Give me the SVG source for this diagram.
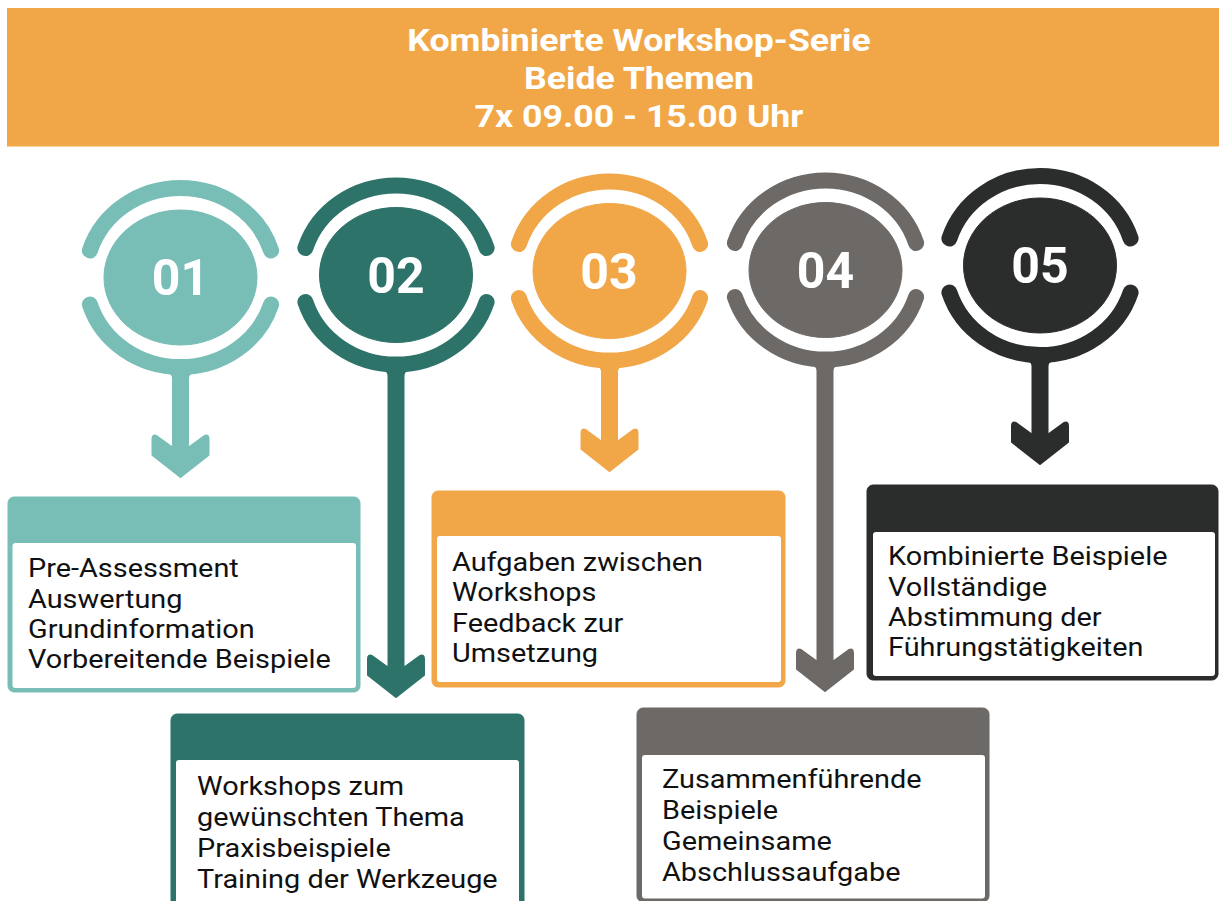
<svg xmlns="http://www.w3.org/2000/svg" width="1219" height="901" viewBox="0 0 1219 901">
<style>
.hdr{font-family:Roboto,"Liberation Sans",sans-serif;font-weight:700;font-size:31px;fill:#ffffff;text-anchor:middle}
.num{font-family:Roboto,"Liberation Sans",sans-serif;font-weight:700;font-size:50px;fill:#ffffff;text-anchor:middle}
.bt{font-family:Roboto,"Liberation Sans",sans-serif;font-size:26.5px;fill:#111111}
.arw{stroke-width:2;stroke-linejoin:round}
.c1{fill:#78BEB6;stroke:#78BEB6}
.c2{fill:#2D7369;stroke:#2D7369}
.c3{fill:#F1A748;stroke:#F1A748}
.c4{fill:#6D6966;stroke:#6D6966}
.c5{fill:#2B2D2C;stroke:#2B2D2C}
.ring{fill:none;stroke-width:16;stroke-linecap:round}
.inner{fill:#ffffff}
</style>
<rect width="1219" height="901" fill="#ffffff"/>
<g id="header">
<rect x="7" y="8" width="1212" height="138.5" fill="#F1A748"/>
<g transform="translate(639,0) scale(1.15,1)">
<text class="hdr" x="0" y="51">Kombinierte Workshop-Serie</text>
<text class="hdr" x="0" y="89">Beide Themen</text>
<text class="hdr" x="0" y="127">7x 09.00 - 15.00 Uhr</text>
</g>
</g>
<g id="connectors">
<path class="arw c1" d="M167,372.5 Q173,372.5 173,378.5 L173,448 L156.5,436 Q152.5,434 152.5,439 L152.5,455 L180.5,477 L208.5,455 L208.5,439 Q208.5,434 204.5,436 L188,448 L188,378.5 Q188,372.5 194,372.5 Z"/>
<path class="arw c2" d="M382.5,370 Q388.5,370 388.5,376 L388.5,668 L372,656 Q368,654 368,659 L368,675 L396,697 L424,675 L424,659 Q424,654 420,656 L403.5,668 L403.5,376 Q403.5,370 409.5,370 Z"/>
<path class="arw c3" d="M596,366 Q602,366 602,372 L602,442 L585.5,430 Q581.5,428 581.5,433 L581.5,449 L609.5,471 L637.5,449 L637.5,433 Q637.5,428 633.5,430 L617,442 L617,372 Q617,366 623,366 Z"/>
<path class="arw c4" d="M811.5,365 Q817.5,365 817.5,371 L817.5,662 L801,650 Q797,648 797,653 L797,669 L825,691 L853,669 L853,653 Q853,648 849,650 L832.5,662 L832.5,371 Q832.5,365 838.5,365 Z"/>
<path class="arw c5" d="M1026.5,360.5 Q1032.5,360.5 1032.5,366.5 L1032.5,435 L1016,423 Q1012,421 1012,426 L1012,442 L1040,464 L1068,442 L1068,426 Q1068,421 1064,423 L1047.5,435 L1047.5,366.5 Q1047.5,360.5 1053.5,360.5 Z"/>
</g>
<g id="step01">
<path class="c1 ring" d="M89.9,250.5 A95,89.5 0 0 1 271.1,250.5 M89.9,304.5 A95,89.5 0 0 0 271.1,304.5"/>
<ellipse class="c1" cx="180.5" cy="277.5" rx="76.5" ry="67.5" stroke="none"/>
<text class="num" x="180.5" y="295">01</text>
</g>
<g id="step02">
<path class="c2 ring" d="M305.4,248 A95,89.5 0 0 1 486.6,248 M305.4,302 A95,89.5 0 0 0 486.6,302"/>
<ellipse class="c2" cx="396" cy="275" rx="76.5" ry="67.5" stroke="none"/>
<text class="num" x="396" y="292.5">02</text>
</g>
<g id="step03">
<path class="c3 ring" d="M518.9,244 A95,89.5 0 0 1 700.1,244 M518.9,298 A95,89.5 0 0 0 700.1,298"/>
<ellipse class="c3" cx="609.5" cy="271" rx="76.5" ry="67.5" stroke="none"/>
<text class="num" x="609" y="288.5">03</text>
</g>
<g id="step04">
<path class="c4 ring" d="M734.9,243 A95,89.5 0 0 1 916.1,243 M734.9,297 A95,89.5 0 0 0 916.1,297"/>
<ellipse class="c4" cx="825.5" cy="270" rx="76.5" ry="67.5" stroke="none"/>
<text class="num" x="825.5" y="287.5">04</text>
</g>
<g id="step05">
<path class="c5 ring" d="M949.4,238.5 A95,89.5 0 0 1 1130.6,238.5 M949.4,292.5 A95,89.5 0 0 0 1130.6,292.5"/>
<ellipse class="c5" cx="1040" cy="265.5" rx="76.5" ry="67.5" stroke="none"/>
<text class="num" x="1040" y="283">05</text>
</g>
<g id="box01">
<rect class="c1" x="8" y="497" width="352" height="195" rx="6" stroke="none"/>
<rect class="inner" x="12.5" y="543" width="343.5" height="145" rx="3"/>
<g transform="translate(28,0) scale(1.09,1)">
<text class="bt" x="0" y="577">Pre-Assessment</text>
<text class="bt" x="0" y="608">Auswertung</text>
<text class="bt" x="0" y="638">Grundinformation</text>
<text class="bt" x="0" y="668">Vorbereitende Beispiele</text>
</g>
</g>
<g id="box02">
<rect class="c2" x="171" y="714" width="353" height="196" rx="6" stroke="none"/>
<rect class="inner" x="176" y="760" width="343" height="146" rx="3"/>
<g transform="translate(197,0) scale(1.09,1)">
<text class="bt" x="0" y="795">Workshops zum</text>
<text class="bt" x="0" y="826">gewünschten Thema</text>
<text class="bt" x="0" y="857">Praxisbeispiele</text>
<text class="bt" x="0" y="888">Training der Werkzeuge</text>
</g>
</g>
<g id="box03">
<rect class="c3" x="432" y="491" width="353" height="196" rx="6" stroke="none"/>
<rect class="inner" x="437" y="536" width="344" height="146" rx="3"/>
<g transform="translate(452,0) scale(1.09,1)">
<text class="bt" x="0" y="571">Aufgaben zwischen</text>
<text class="bt" x="0" y="601">Workshops</text>
<text class="bt" x="0" y="632">Feedback zur</text>
<text class="bt" x="0" y="662">Umsetzung</text>
</g>
</g>
<g id="box04">
<rect class="c4" x="637" y="708" width="352" height="194" rx="6" stroke="none"/>
<rect class="inner" x="642" y="755" width="343" height="143.5" rx="3"/>
<g transform="translate(662,0) scale(1.09,1)">
<text class="bt" x="0" y="788">Zusammenführende</text>
<text class="bt" x="0" y="819">Beispiele</text>
<text class="bt" x="0" y="850">Gemeinsame</text>
<text class="bt" x="0" y="881">Abschlussaufgabe</text>
</g>
</g>
<g id="box05">
<rect class="c5" x="867" y="485" width="351" height="195" rx="6" stroke="none"/>
<rect class="inner" x="873" y="532" width="342" height="144" rx="3"/>
<g transform="translate(888,0) scale(1.09,1)">
<text class="bt" x="0" y="565">Kombinierte Beispiele</text>
<text class="bt" x="0" y="596">Vollständige</text>
<text class="bt" x="0" y="626">Abstimmung der</text>
<text class="bt" x="0" y="656">Führungstätigkeiten</text>
</g>
</g>
</svg>
